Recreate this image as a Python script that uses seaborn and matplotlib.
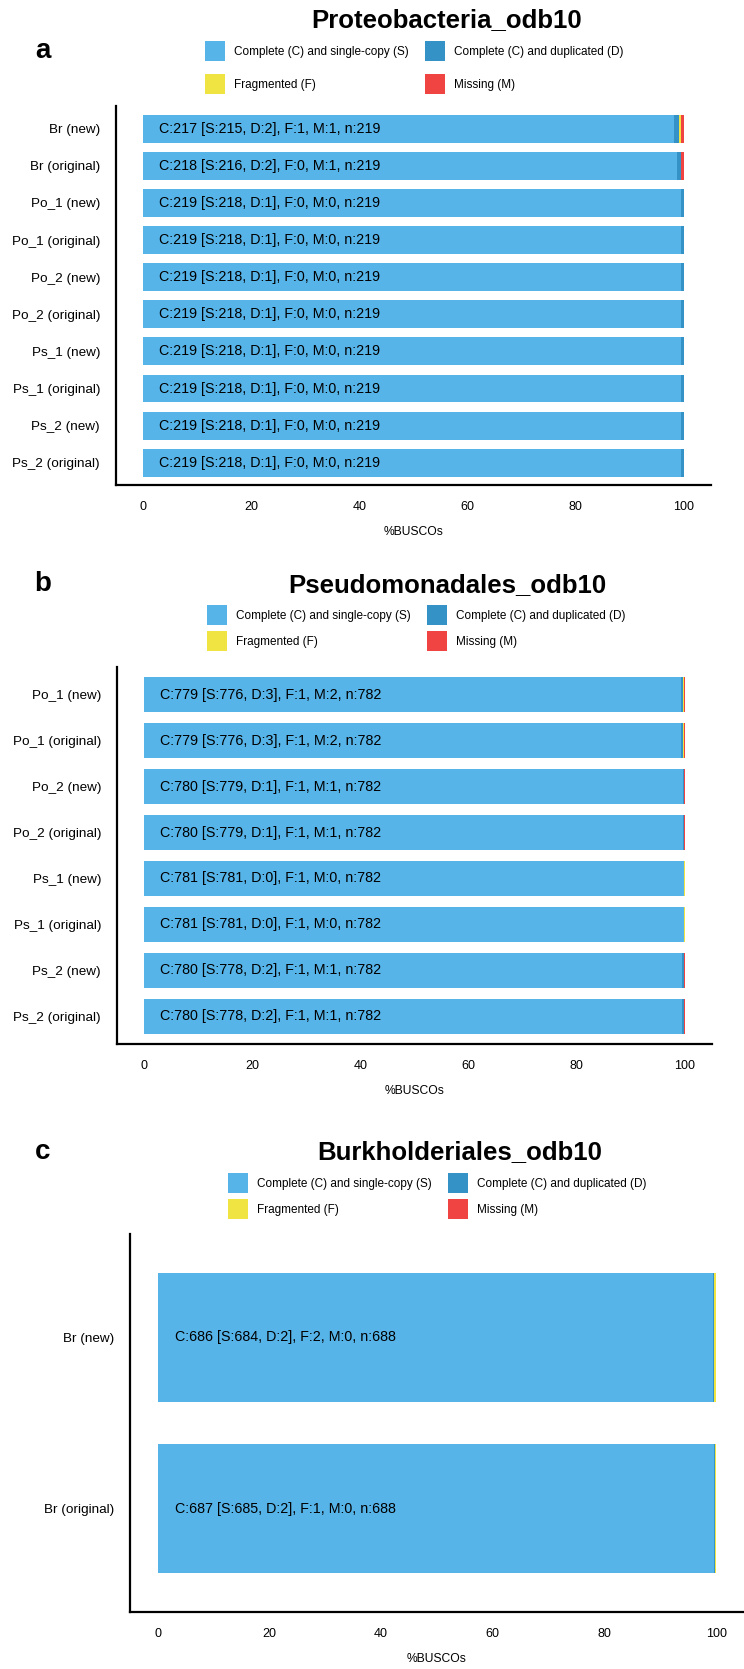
import pandas as pd
import matplotlib.pyplot as plt
import seaborn as sns
from matplotlib.patches import Patch

W, H = 744, 1669

CATEGORIES = ['Complete (C) and single-copy (S)', 'Complete (C) and duplicated (D)',
              'Fragmented (F)', 'Missing (M)']
COLORS = ['#56B4E9', '#3492C7', '#F0E442', '#F04442']

# panel a - Proteobacteria_odb10
proteo_labels = ['Br (new)', 'Br (original)', 'Po_1 (new)', 'Po_1 (original)', 'Po_2 (new)',
                 'Po_2 (original)', 'Ps_1 (new)', 'Ps_1 (original)', 'Ps_2 (new)', 'Ps_2 (original)']
proteo_s = [215, 216, 218, 218, 218, 218, 218, 218, 218, 218]
proteo_d = [2, 2, 1, 1, 1, 1, 1, 1, 1, 1]
proteo_f = [1, 0, 0, 0, 0, 0, 0, 0, 0, 0]
proteo_m = [1, 1, 0, 0, 0, 0, 0, 0, 0, 0]
proteo_n = 219

# panel b - Pseudomonadales_odb10
pseudo_labels = ['Po_1 (new)', 'Po_1 (original)', 'Po_2 (new)', 'Po_2 (original)',
                 'Ps_1 (new)', 'Ps_1 (original)', 'Ps_2 (new)', 'Ps_2 (original)']
pseudo_s = [776, 776, 779, 779, 781, 781, 778, 778]
pseudo_d = [3, 3, 1, 1, 0, 0, 2, 2]
pseudo_f = [1, 1, 1, 1, 1, 1, 1, 1]
pseudo_m = [2, 2, 1, 1, 0, 0, 1, 1]
pseudo_n = 782

# panel c - Burkholderiales_odb10
burk_labels = ['Br (new)', 'Br (original)']
burk_s = [684, 685]
burk_d = [2, 2]
burk_f = [2, 1]
burk_m = [0, 0]
burk_n = 688


def px_rect(left, right, top, bottom):
    return [left / W, 1 - bottom / H, (right - left) / W, (bottom - top) / H]


def draw_panel(fig, rect, letter, letter_xy, title, title_xy, legend_xy, legend_spacing,
               labels, s, d, f, m, n):
    df = pd.DataFrame({'label': labels, 'S': s, 'D': d, 'F': f, 'M': m})
    pct = df[['S', 'D', 'F', 'M']] / n * 100
    cum = pct.cumsum(axis=1)

    ax = fig.add_axes(rect)
    # stacked bars: draw the cumulative totals from the back to the front
    for i in reversed(range(4)):
        sns.barplot(x=cum.iloc[:, i], y=df['label'], color=COLORS[i], width=0.75,
                    orient='h', saturation=1, linewidth=0, ax=ax)

    for i, row in df.iterrows():
        txt = "C:%d [S:%d, D:%d], F:%d, M:%d, n:%d" % (row.S + row.D, row.S, row.D, row.F, row.M, n)
        ax.text(3, i, txt, ha='left', va='center', fontsize=10.3, color='black')

    ax.set_xlim(-5, 105)
    ax.set_ylim(len(labels) - 0.4, -0.6)
    ax.set_xticks([0, 20, 40, 60, 80, 100])
    ax.set_ylabel('')
    ax.set_xlabel('%BUSCOs', fontsize=8.7, labelpad=9.5)
    sns.despine(ax=ax)
    for side in ['left', 'bottom']:
        ax.spines[side].set_linewidth(1.6)
        ax.spines[side].set_color('black')
    ax.tick_params(axis='x', length=8.5, width=0.8, color='#333333', labelcolor='black',
                   labelsize=9, pad=3)
    ax.tick_params(axis='y', length=2.5, width=0.5, color='#999999', labelcolor='black',
                   labelsize=9.7, pad=9)

    fig.text(letter_xy[0] / W, 1 - letter_xy[1] / H, letter, fontsize=20,
             fontweight='bold', ha='center', va='center', color='black')
    fig.text(title_xy[0] / W, 1 - title_xy[1] / H, title, fontsize=18.5,
             fontweight='bold', ha='center', va='center', color='black')

    # legend: first row centred near legend_xy[1]
    top = legend_xy[1] - 9
    order = [0, 2, 1, 3]
    handles = [Patch(facecolor=COLORS[i], edgecolor='none') for i in order]
    fig.legend(handles, [CATEGORIES[i] for i in order], loc='upper left',
               bbox_to_anchor=(legend_xy[0] / W, 1 - top / H), ncol=2,
               frameon=False, fontsize=8.5, handlelength=1.69, handleheight=2.23,
               handletextpad=0.75, columnspacing=1.4, labelspacing=legend_spacing,
               borderpad=0, borderaxespad=0, labelcolor='black')
    return ax


if __name__ == "__main__":
    sns.set_style('white')
    plt.rcParams['font.family'] = ['Liberation Sans', 'DejaVu Sans']
    plt.rcParams['text.color'] = 'black'
    plt.rcParams['axes.labelcolor'] = 'black'

    fig = plt.figure(figsize=(W / 100, H / 100), dpi=100)

    draw_panel(fig, px_rect(116, 711, 106.5, 485), 'a', (43, 51), 'Proteobacteria_odb10',
               (447, 20), (205, 50), 1.1, proteo_labels, proteo_s, proteo_d, proteo_f, proteo_m, proteo_n)
    draw_panel(fig, px_rect(117, 712, 667, 1044), 'b', (43, 584), 'Pseudomonadales_odb10',
               (447, 585), (207, 614), 0.53, pseudo_labels, pseudo_s, pseudo_d, pseudo_f, pseudo_m, pseudo_n)
    draw_panel(fig, px_rect(130, 744, 1234, 1612), 'c', (43, 1152), 'Burkholderiales_odb10',
               (460, 1152), (228, 1182), 0.53, burk_labels, burk_s, burk_d, burk_f, burk_m, burk_n)

    plt.savefig('out.png', dpi=100)
